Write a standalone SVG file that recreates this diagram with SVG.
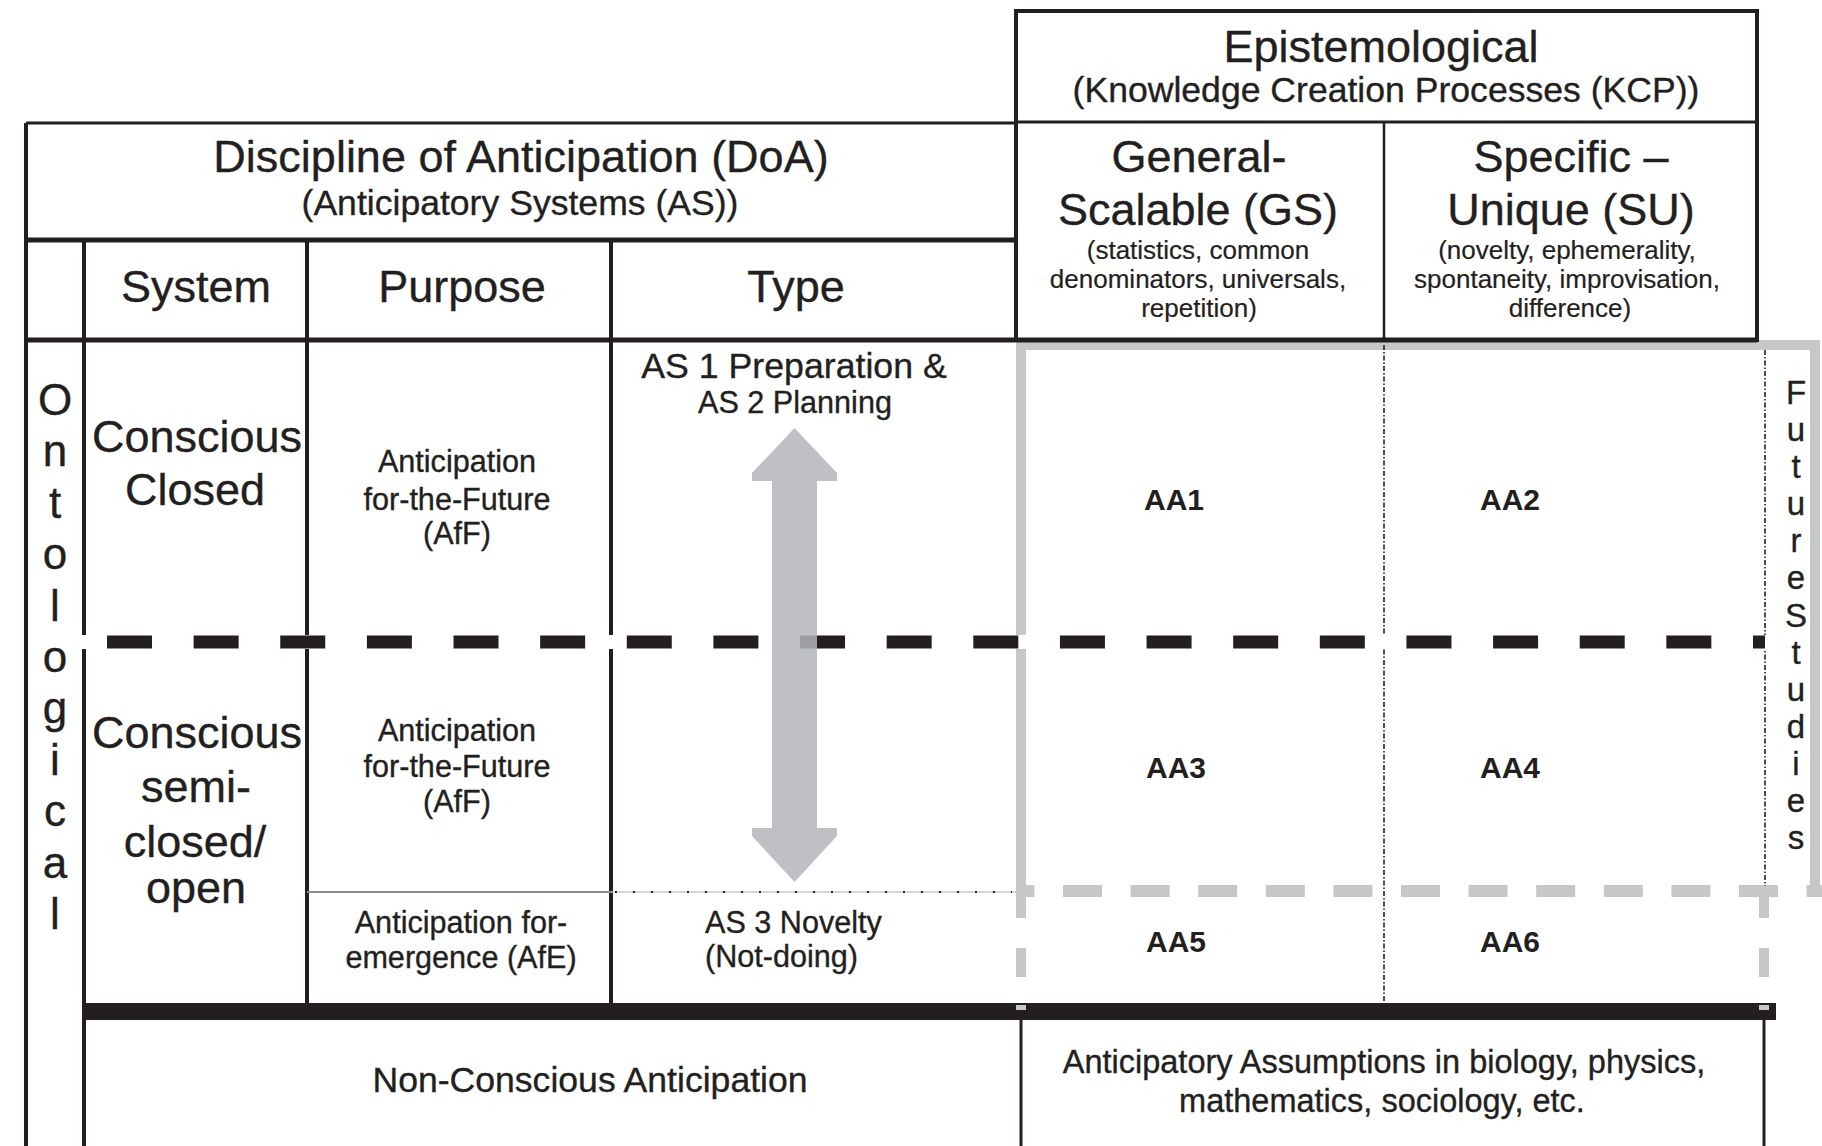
<svg xmlns="http://www.w3.org/2000/svg" width="1822" height="1146" viewBox="0 0 1822 1146">
<style>
.ln{stroke:#231f20;fill:none}
.gr{stroke:#c6c7c9;fill:none}
.t{font-family:"Liberation Sans",Arial,Helvetica,sans-serif;fill:#231f20;text-anchor:middle;stroke:#231f20;stroke-width:0.35px}
.h1{font-size:45px}
.h2{font-size:35.6px}
.s{font-size:26px;stroke-width:0.2px}
.m{font-size:30.6px}
.aa{font-size:30px;font-weight:bold;stroke-width:0}
.v1{font-size:44px}
.v2{font-size:33px}
.b{font-size:32.5px}
.st{text-anchor:start}
</style>
<rect x="0" y="0" width="1822" height="1146" fill="#ffffff"/>

<!-- gray frame (FutureStudies area) -->
<g id="futures-frame">
  <path class="gr" d="M1021,891 V345 H1815 V891" stroke-width="10"/>
  <line class="gr" x1="1016" y1="891" x2="1822" y2="891" stroke-width="12" stroke-dasharray="39 28.6" stroke-dashoffset="20.6"/>
  <line class="gr" x1="1021" y1="886" x2="1021" y2="918" stroke-width="10"/>
  <line class="gr" x1="1021" y1="948" x2="1021" y2="977" stroke-width="10"/>
  <line class="gr" x1="1764" y1="886" x2="1764" y2="918" stroke-width="10"/>
  <line class="gr" x1="1764" y1="948" x2="1764" y2="977" stroke-width="10"/>
  <line class="gr" x1="1740" y1="891" x2="1778" y2="891" stroke-width="12"/>
</g>

<!-- table grid -->
<g id="grid">
  <rect class="ln" x="1016" y="11" width="741" height="329" stroke-width="4"/>
  <line class="ln" x1="1016" y1="122" x2="1757" y2="122" stroke-width="3"/>
  <line class="ln" x1="1384" y1="122" x2="1384" y2="340" stroke-width="2.5"/>
  <line class="ln" x1="26" y1="123" x2="1016" y2="123" stroke-width="3"/>
  <line class="ln" x1="26" y1="123" x2="26" y2="1146" stroke-width="4"/>
  <line class="ln" x1="26" y1="240" x2="1016" y2="240" stroke-width="5"/>
  <line class="ln" x1="26" y1="340" x2="1757" y2="340" stroke-width="5"/>
  <line class="ln" x1="84" y1="240" x2="84" y2="1146" stroke-width="4"/>
  <line class="ln" x1="307" y1="240" x2="307" y2="1003" stroke-width="4"/>
  <line class="ln" x1="611" y1="240" x2="611" y2="1003" stroke-width="4"/>
  <line x1="307" y1="892" x2="611" y2="892" stroke="#8a8b8d" stroke-width="2"/>
  <line x1="611" y1="892" x2="1016" y2="892" stroke="#c9cacc" stroke-width="1.5"/>
  <line x1="615" y1="892" x2="1012" y2="892" stroke="#231f20" stroke-width="2" stroke-dasharray="2 16"/>
  <line class="ln" x1="1384" y1="345" x2="1384" y2="1003" stroke-width="1.6" stroke-dasharray="5 2 1.5 2"/>
  <line class="ln" x1="1765" y1="350" x2="1765" y2="886" stroke-width="1.6" stroke-dasharray="5 2 1.5 2"/>
  <rect x="84" y="1003" width="1692" height="17" fill="#231f20"/>
  <rect x="1016" y="1005" width="10" height="5" fill="#c6c7c9"/>
  <rect x="1759" y="1005" width="10" height="5" fill="#c6c7c9"/>
  <line class="ln" x1="1021" y1="1020" x2="1021" y2="1146" stroke-width="3"/>
  <line class="ln" x1="1764" y1="1020" x2="1764" y2="1146" stroke-width="3"/>
  <!-- dashed boundary between closed and semi-closed -->
  <line x1="80" y1="642" x2="1770" y2="642" stroke="#ffffff" stroke-width="14"/>
  <line x1="107" y1="642" x2="1765" y2="642" stroke="#231f20" stroke-width="13" stroke-dasharray="45 41.63"/>
</g>

<g id="connectors">
  <polygon points="794.5,428 837,473 837,481 817,481 817,828 837,828 837,836 794.5,882 752,836 752,828 772,828 772,481 752,481 752,473" fill="#b4b5b8" fill-opacity="0.85"/>
</g>

<g id="epistemological-header">
  <text class="t h1" x="1381" y="62">Epistemological</text>
  <text class="t h2" x="1386" y="102">(Knowledge Creation Processes (KCP))</text>
</g>
<g id="gs-header">
  <text class="t h1" x="1199" y="172">General-</text>
  <text class="t h1" x="1198" y="225">Scalable (GS)</text>
  <text class="t s" x="1198" y="259">(statistics, common</text>
  <text class="t s" x="1198" y="288">denominators, universals,</text>
  <text class="t s" x="1199" y="317">repetition)</text>
</g>
<g id="su-header">
  <text class="t h1" x="1571" y="172">Specific –</text>
  <text class="t h1" x="1571" y="225">Unique (SU)</text>
  <text class="t s" x="1567" y="259">(novelty, ephemerality,</text>
  <text class="t s" x="1567" y="288">spontaneity, improvisation,</text>
  <text class="t s" x="1570" y="317">difference)</text>
</g>
<g id="doa-header">
  <text class="t h1" x="521" y="172">Discipline of Anticipation (DoA)</text>
  <text class="t h2" x="520" y="215">(Anticipatory Systems (AS))</text>
</g>
<g id="col-system"><text class="t h1" x="196" y="302">System</text></g>
<g id="col-purpose"><text class="t h1" x="462" y="302">Purpose</text></g>
<g id="col-type"><text class="t h1" x="796" y="302">Type</text></g>

<g id="ontological">
  <text class="t v1"><tspan x="55" y="415">O</tspan><tspan x="55" y="466.4">n</tspan><tspan x="55" y="517.8">t</tspan><tspan x="55" y="569.2">o</tspan><tspan x="55" y="620.6">l</tspan><tspan x="55" y="672">o</tspan><tspan x="55" y="723.4">g</tspan><tspan x="55" y="774.8">i</tspan><tspan x="55" y="826.2">c</tspan><tspan x="55" y="877.6">a</tspan><tspan x="55" y="929">l</tspan></text>
</g>

<g id="sys-closed">
  <text class="t h1" x="197" y="452">Conscious</text>
  <text class="t h1" x="195" y="505">Closed</text>
</g>
<g id="sys-semi">
  <text class="t h1" x="197" y="748">Conscious</text>
  <text class="t h1" x="196" y="802">semi-</text>
  <text class="t h1" x="195" y="857">closed/</text>
  <text class="t h1" x="196" y="903">open</text>
</g>
<g id="purpose-aff-1">
  <text class="t m" x="457" y="472">Anticipation</text>
  <text class="t m" x="457" y="510">for-the-Future</text>
  <text class="t m" x="457" y="544">(AfF)</text>
</g>
<g id="purpose-aff-2">
  <text class="t m" x="457" y="741">Anticipation</text>
  <text class="t m" x="457" y="777">for-the-Future</text>
  <text class="t m" x="457" y="812">(AfF)</text>
</g>
<g id="purpose-afe">
  <text class="t m" x="461" y="933">Anticipation for-</text>
  <text class="t m" x="461" y="968">emergence (AfE)</text>
</g>
<g id="type-as12">
  <text class="t" x="794" y="378" font-size="35.7px">AS 1 Preparation &amp;</text>
  <text class="t m" x="795" y="413">AS 2 Planning</text>
</g>
<g id="type-as3">
  <text class="t m st" x="705" y="933">AS 3 Novelty</text>
  <text class="t m st" x="705" y="967">(Not-doing)</text>
</g>

<g id="aa1"><text class="t aa" x="1174" y="510">AA1</text></g>
<g id="aa2"><text class="t aa" x="1510" y="510">AA2</text></g>
<g id="aa3"><text class="t aa" x="1176" y="778">AA3</text></g>
<g id="aa4"><text class="t aa" x="1510" y="778">AA4</text></g>
<g id="aa5"><text class="t aa" x="1176" y="952">AA5</text></g>
<g id="aa6"><text class="t aa" x="1510" y="952">AA6</text></g>

<g id="futurestudies">
  <text class="t v2"><tspan x="1796" y="404">F</tspan><tspan x="1796" y="441.1">u</tspan><tspan x="1796" y="478.2">t</tspan><tspan x="1796" y="515.2">u</tspan><tspan x="1796" y="552.3">r</tspan><tspan x="1796" y="589.4">e</tspan><tspan x="1796" y="626.5">S</tspan><tspan x="1796" y="663.6">t</tspan><tspan x="1796" y="700.6">u</tspan><tspan x="1796" y="737.7">d</tspan><tspan x="1796" y="774.8">i</tspan><tspan x="1796" y="811.9">e</tspan><tspan x="1796" y="849">s</tspan></text>
</g>

<g id="non-conscious">
  <text class="t h2" x="590" y="1092">Non-Conscious Anticipation</text>
</g>
<g id="assumptions">
  <text class="t b" x="1384" y="1073">Anticipatory Assumptions in biology, physics,</text>
  <text class="t b" x="1382" y="1112">mathematics, sociology, etc.</text>
</g>
</svg>
